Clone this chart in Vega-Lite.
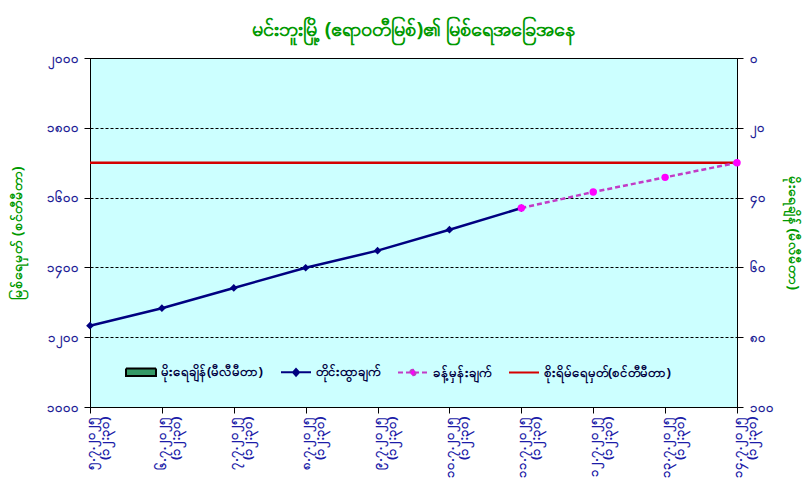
{
  "$schema": "https://vega.github.io/schema/vega-lite/v6.json",
  "width": 647,
  "height": 349,
  "autosize": "none",
  "padding": {"left": 90, "top": 58, "right": 71, "bottom": 80},
  "background": "white",
  "config": {
    "font": "Noto Sans",
    "view": {"fill": "#CCFFFF", "stroke": "#000000", "strokeWidth": 1},
    "legend": {"symbolFillColor": "#339966", "symbolStrokeColor": "#000000"}
  },
  "title": {
    "text": "မင်းဘူးမြို့ (ဧရာဝတီမြစ်)၏ မြစ်ရေအခြေအနေ",
    "color": "#009900",
    "fontSize": 20,
    "fontWeight": "bold",
    "offset": 12,
    "anchor": "middle"
  },
  "datasets": {
    "levels": [
      {"date": "၅.၇.၂၀၂၅", "series": "obs", "level": 1233},
      {"date": "၆.၇.၂၀၂၅", "series": "obs", "level": 1283},
      {"date": "၇.၇.၂၀၂၅", "series": "obs", "level": 1341},
      {"date": "၈.၇.၂၀၂၅", "series": "obs", "level": 1399},
      {"date": "၉.၇.၂၀၂၅", "series": "obs", "level": 1448},
      {"date": "၁၀.၇.၂၀၂၅", "series": "obs", "level": 1508},
      {"date": "၁၁.၇.၂၀၂၅", "series": "obs", "level": 1570},
      {"date": "၁၁.၇.၂၀၂၅", "series": "fc", "level": 1570},
      {"date": "၁၂.၇.၂၀၂၅", "series": "fc", "level": 1616},
      {"date": "၁၃.၇.၂၀၂၅", "series": "fc", "level": 1658},
      {"date": "၁၄.၇.၂၀၂၅", "series": "fc", "level": 1700},
      {"date": "၅.၇.၂၀၂၅", "series": "warn", "level": 1700},
      {"date": "၁၄.၇.၂၀၂၅", "series": "warn", "level": 1700}
    ],
    "rain": [
      {"date": "၅.၇.၂၀၂၅", "series": "rain", "rain": 0},
      {"date": "၆.၇.၂၀၂၅", "series": "rain", "rain": 0},
      {"date": "၇.၇.၂၀၂၅", "series": "rain", "rain": 0},
      {"date": "၈.၇.၂၀၂၅", "series": "rain", "rain": 0},
      {"date": "၉.၇.၂၀၂၅", "series": "rain", "rain": 0},
      {"date": "၁၀.၇.၂၀၂၅", "series": "rain", "rain": 0},
      {"date": "၁၁.၇.၂၀၂၅", "series": "rain", "rain": 0},
      {"date": "၁၂.၇.၂၀၂၅", "series": "rain", "rain": 0},
      {"date": "၁၃.၇.၂၀၂၅", "series": "rain", "rain": 0},
      {"date": "၁၄.၇.၂၀၂၅", "series": "rain", "rain": 0}
    ]
  },
  "encoding": {
    "x": {
      "field": "date",
      "type": "ordinal",
      "sort": null,
      "scale": {
        "type": "point",
        "padding": 0,
        "domain": ["၅.၇.၂၀၂၅", "၆.၇.၂၀၂၅", "၇.၇.၂၀၂၅", "၈.၇.၂၀၂၅", "၉.၇.၂၀၂၅", "၁၀.၇.၂၀၂၅", "၁၁.၇.၂၀၂၅", "၁၂.၇.၂၀၂၅", "၁၃.၇.၂၀၂၅", "၁၄.၇.၂၀၂၅"]
      },
      "axis": {
        "title": null,
        "labelAngle": -90,
        "labelExpr": "[datum.value, '(၁၂:၃၀)']",
        "labelColor": "#1C1CA8",
        "labelFontSize": 13,
        "labelFontWeight": "bold",
        "labelLineHeight": 14,
        "labelPadding": 3,
        "tickColor": "#000000",
        "tickSize": 6,
        "domainColor": "#000000",
        "grid": false
      }
    }
  },
  "layer": [
    {
      "data": {"name": "rain"},
      "mark": {"type": "bar", "color": "#339966", "width": 12},
      "encoding": {
        "y": {
          "field": "rain",
          "type": "quantitative",
          "scale": {"domain": [0, 100], "reverse": true, "nice": false},
          "axis": {
            "orient": "right",
            "values": [0, 20, 40, 60, 80, 100],
            "labelExpr": "datum.value==0?'၀':datum.value==20?'၂၀':datum.value==40?'၄၀':datum.value==60?'၆၀':datum.value==80?'၈၀':'၁၀၀'",
            "labelColor": "#1E1E96",
            "labelFontSize": 13,
            "labelFontWeight": "bold",
            "labelPadding": 6,
            "tickColor": "#000000",
            "tickSize": 6,
            "domainColor": "#000000",
            "grid": false,
            "title": "မိုးရေချိန် (မီလီမီတာ)",
            "titleColor": "#009900",
            "titleFontSize": 14,
            "titleFontWeight": "bold",
            "titlePadding": 12
          }
        }
      }
    },
    {
      "data": {"name": "levels"},
      "encoding": {
        "y": {
          "field": "level",
          "type": "quantitative",
          "scale": {"domain": [1000, 2000], "nice": false, "zero": false},
          "axis": {
            "orient": "left",
            "values": [1000, 1200, 1400, 1600, 1800, 2000],
            "labelExpr": "datum.value==1000?'၁၀၀၀':datum.value==1200?'၁၂၀၀':datum.value==1400?'၁၄၀၀':datum.value==1600?'၁၆၀၀':datum.value==1800?'၁၈၀၀':'၂၀၀၀'",
            "labelColor": "#1E1E96",
            "labelFontSize": 13,
            "labelFontWeight": "bold",
            "labelPadding": 6,
            "tickColor": "#000000",
            "tickSize": 6,
            "domainColor": "#000000",
            "grid": true,
            "gridColor": "#000000",
            "gridDash": [3, 2],
            "gridWidth": 1,
            "title": "မြစ်ရေမှတ် (စင်တီမီတာ)",
            "titleColor": "#009900",
            "titleFontSize": 14,
            "titleFontWeight": "bold",
            "titlePadding": 22
          }
        }
      },
      "layer": [
        {
          "transform": [{"filter": "datum.series=='warn'"}],
          "mark": {"type": "line", "color": "#D40000", "strokeWidth": 2.5},
          "encoding": {}
        },
        {
          "transform": [{"filter": "datum.series=='obs'"}],
          "mark": {"type": "line", "color": "#000080", "strokeWidth": 2.5},
          "encoding": {}
        },
        {
          "transform": [{"filter": "datum.series=='fc'"}],
          "mark": {"type": "line", "color": "#C23BC6", "strokeWidth": 2.5, "strokeDash": [5, 3]},
          "encoding": {}
        },
        {
          "transform": [{"filter": "datum.series=='obs'"}],
          "mark": {"type": "point", "shape": "diamond", "filled": true, "size": 60, "color": "#000080", "opacity": 1}
        },
        {
          "transform": [{"filter": "datum.series=='fc'"}],
          "mark": {"type": "point", "shape": "circle", "filled": true, "size": 55, "color": "#FF00FF", "opacity": 1}
        },
        {
          "mark": {"type": "point", "filled": true, "opacity": 0, "strokeWidth": 2},
          "encoding": {
            "color": {
              "field": "series",
              "type": "nominal",
              "scale": {"domain": ["rain", "obs", "fc", "warn"], "range": ["#339966", "#000080", "#FF00FF", "transparent"]},
              "legend": {
                "title": null,
                "orient": "none",
                "legendX": 35,
                "legendY": 298,
                "direction": "horizontal",
                "columns": 4,
                "symbolSize": 900,
                "symbolOpacity": 1,
                "symbolStrokeWidth": 2,
                "symbolFillColor": "#339966",
                "symbolStrokeColor": "#000000",
                "labelFontSize": 13,
                "labelFontWeight": "bold",
                "labelColor": "#000040",
                "labelOffset": 4,
                "columnPadding": 14,
                "labelLimit": 300,
                "labelExpr": "datum.value=='rain'?'မိုးရေချိန်(မီလီမီတာ)':datum.value=='obs'?'တိုင်းထွာချက်':datum.value=='fc'?'ခန့်မှန်းချက်':'စိုးရိမ်ရေမှတ်(စင်တီမီတာ)'"
              }
            },
            "stroke": {
              "field": "series",
              "type": "nominal",
              "scale": {"domain": ["rain", "obs", "fc", "warn"], "range": ["#000000", "#000080", "#C23BC6", "#D40000"]},
              "legend": {"title": null, "symbolFillColor": "#339966", "symbolStrokeColor": "#000000"}
            },
            "shape": {
              "field": "series",
              "type": "nominal",
              "scale": {
                "domain": ["rain", "obs", "fc", "warn"],
                "range": [
                  "M-1,-0.25H1V0.25H-1Z",
                  "M-1,0H1M0,-0.22L0.2,0L0,0.22L-0.2,0Z",
                  "M-1,0H1M-0.18,0A0.18,0.18,0,1,1,0.18,0A0.18,0.18,0,1,1,-0.18,0Z",
                  "M-1,0H1"
                ]
              },
              "legend": {"title": null, "symbolFillColor": "#339966", "symbolStrokeColor": "#000000"}
            },
            "strokeDash": {
              "field": "series",
              "type": "nominal",
              "scale": {"domain": ["rain", "obs", "fc", "warn"], "range": [[1, 0], [1, 0], [5, 3], [1, 0]]},
              "legend": {"title": null, "symbolFillColor": "#339966", "symbolStrokeColor": "#000000"}
            }
          }
        }
      ]
    }
  ],
  "resolve": {"scale": {"y": "independent"}}
}
